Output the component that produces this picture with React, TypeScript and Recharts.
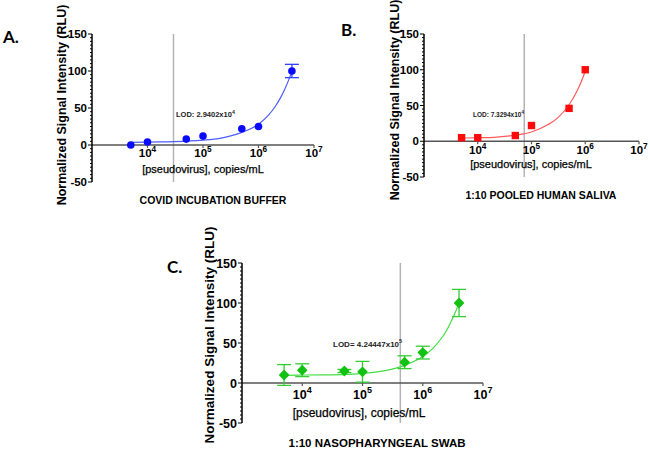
import React from 'react';
import {
  ComposedChart,
  XAxis,
  YAxis,
  Line,
  Scatter,
  ErrorBar,
  ReferenceLine,
  ReferenceDot,
} from 'recharts';

// measured points (copies/mL vs normalized RLU)
const bufferConc = [5000, 10000, 50000, 100000, 500000, 1000000, 4000000];
const bufferSignal = [0, 4, 8, 12, 22, 25, 100];
const bufferError = [0, 0, 0, 0, 0, 0, 9];

const salivaConc = [5000, 10000, 50000, 100000, 500000, 1000000];
const salivaSignal = [5, 5, 8, 22, 46, 100];

const swabConc = [5000, 10000, 50000, 100000, 500000, 1000000, 4000000];
const swabSignal = [10, 16, 15, 14, 26, 38, 100];
const swabError = [13, 8, 2, 13, 8, 8, 17];

// fitted curves
const bufferFitX = [5000, 10000, 30000, 100000, 200000, 500000, 1000000, 1500000, 2000000, 2500000, 3000000, 3500000, 4000000];
const bufferFitY = [3.5, 4, 4.5, 6.5, 9, 17, 28, 40, 52, 64, 76, 88, 99];

const salivaFitX = [5000, 10000, 20000, 50000, 100000, 200000, 300000, 500000, 700000, 850000, 1000000];
const salivaFitY = [4.3, 5, 5.5, 8.5, 13, 23, 32, 51, 70, 84, 98];

const swabFitX = [5000, 10000, 50000, 100000, 300000, 500000, 1000000, 1500000, 2000000, 2500000, 3000000, 3500000, 4000000];
const swabFitY = [9.5, 10, 10.5, 12, 17, 22, 33, 44, 55, 66, 78, 89, 100];

const lodValues = [29402, 73294, 424447];
const lodLabels = ['LOD: 2.9402x10', 'LOD: 7.3294x10', 'LOD= 4.24447x10'];
const lodExps = ['4', '4', '5'];

const xTicks = [10000, 100000, 1000000, 10000000];
const xTickExps = ['4', '5', '6', '7'];
const yMajor = [-50, 0, 50, 100, 150];
const yTicks: number[] = [];
for (let v = -50; v <= 150; v += 5) yTicks.push(v);

const titles = ['COVID INCUBATION BUFFER', '1:10 POOLED HUMAN SALIVA', '1:10 NASOPHARYNGEAL SWAB'];
const letters = ['A.', 'B.', 'C.'];
const xTitle = '[pseudovirus], copies/mL';
const yTitle = 'Normalized Signal Intensity (RLU)';

const zip = (xs: number[], ys: number[], es?: number[]) =>
  xs.map((x, i) => ({ x, y: ys[i], err: es ? es[i] : 0 }));

const tickFont = '"Liberation Sans", Arial, sans-serif';
const textFont = '"Liberation Sans", Arial, sans-serif';

type MarkerKind = 'circle' | 'square' | 'diamond';

const marker = (kind: MarkerKind, color: string) => (p: any) => {
  const { cx, cy } = p;
  if (kind === 'circle') return <circle cx={cx} cy={cy} r={3.8} fill={color} />;
  if (kind === 'square') return <rect x={cx - 3.7} y={cy - 3.7} width={7.4} height={7.4} fill={color} />;
  return (
    <path
      d={`M${cx},${cy - 4.4}L${cx + 4.4},${cy}L${cx},${cy + 4.4}L${cx - 4.4},${cy}Z`}
      fill={color}
      stroke={color}
      strokeWidth={1.4}
      strokeLinejoin="round"
    />
  );
};

interface PanelProps {
  left: number;
  top: number;
  width: number;
  height: number;
  margin: { top: number; right: number; bottom: number; left: number };
  yAxisWidth: number;
  points: { x: number; y: number; err: number }[];
  fit: { x: number; y: number; err: number }[];
  lod: number;
  kind: MarkerKind;
  pointColor: string;
  curveColor: string;
  errColor?: string;
  tickSize: number;
  xLabelOffset: number;
}

const Panel: React.FC<PanelProps> = (p) => {
  const YTick = (t: any) => {
    const v = t.payload.value;
    const major = yMajor.includes(v);
    return (
      <g>
        <line x1={t.x} x2={t.x - (major ? 4 : 2)} y1={t.y} y2={t.y} stroke="#000" strokeWidth={1} />
        {major && (
          <text x={t.x - 5} y={t.y} dy="0.36em" textAnchor="end" fontSize={p.tickSize} fontWeight="bold" fontFamily={tickFont} fill="#000">
            {v}
          </text>
        )}
      </g>
    );
  };

  return (
    <div style={{ position: 'absolute', left: p.left, top: p.top }}>
      <ComposedChart width={p.width} height={p.height} margin={p.margin}>
        <XAxis type="number" dataKey="x" scale="log" domain={[1000, 10000000]} allowDataOverflow hide />
        <YAxis
          type="number"
          dataKey="y"
          domain={[-50, 150]}
          allowDataOverflow
          ticks={yTicks}
          interval={0}
          width={p.yAxisWidth}
          tickSize={0}
          tickMargin={0}
          tickLine={false}
          axisLine={{ stroke: '#000', strokeWidth: 1.5 }}
          tick={YTick}
        />
        <ReferenceLine x={p.lod} stroke="#b4b4b4" strokeWidth={1.5} />
        <ReferenceLine y={0} stroke="#555" strokeWidth={1.5} />
        {xTicks.map((t, i) => (
          <ReferenceDot
            key={t}
            x={t}
            y={0}
            r={0}
            ifOverflow="visible"
            shape={(d: any) => (
              <g>
                <line x1={d.cx} x2={d.cx} y1={d.cy} y2={d.cy + 3} stroke="#555" strokeWidth={1.2} />
                <text x={d.cx} y={d.cy + p.xLabelOffset} textAnchor="middle" fontSize={p.tickSize} fontWeight="bold" fontFamily={tickFont} fill="#000">
                  10
                  <tspan dy={-p.tickSize * 0.45} fontSize={p.tickSize * 0.72}>
                    {xTickExps[i]}
                  </tspan>
                </text>
              </g>
            )}
          />
        ))}
        <Line
          data={p.fit}
          dataKey="y"
          type="monotone"
          dot={false}
          stroke={p.curveColor}
          strokeWidth={1.2}
          isAnimationActive={false}
        />
        <Scatter data={p.points} dataKey="y" fill={p.pointColor} shape={marker(p.kind, p.pointColor)} isAnimationActive={false}>
          {p.errColor && (
            <ErrorBar dataKey="err" direction="y" width={7} stroke={p.errColor} strokeWidth={1.3} isAnimationActive={false} />
          )}
        </Scatter>
      </ComposedChart>
    </div>
  );
};

const Lod: React.FC<{ x: number; y: number; fs: number; i: number }> = ({ x, y, fs, i }) => (
  <text x={x} y={y} fontSize={fs} fontWeight="bold" fontFamily={tickFont} fill="#222">
    {lodLabels[i]}
    <tspan dy={-fs * 0.45} fontSize={fs * 0.7}>
      {lodExps[i]}
    </tspan>
  </text>
);

const App: React.FC = () => {
  return (
    <div style={{ position: 'absolute', left: 0, top: 0, width: 650, height: 452, background: '#fff' }}>
      <Panel
        left={0}
        top={0}
        width={330}
        height={200}
        margin={{ top: 34, right: 16, bottom: 18, left: 0 }}
        yAxisWidth={92}
        points={zip(bufferConc, bufferSignal, bufferError)}
        fit={zip(bufferFitX, bufferFitY)}
        lod={lodValues[0]}
        kind="circle"
        pointColor="#0a0aff"
        curveColor="#4d5dff"
        errColor="#3344ff"
        tickSize={11.5}
        xLabelOffset={12}
      />
      <Panel
        left={330}
        top={0}
        width={320}
        height={200}
        margin={{ top: 34, right: 11, bottom: 23, left: 0 }}
        yAxisWidth={94}
        points={zip(salivaConc, salivaSignal)}
        fit={zip(salivaFitX, salivaFitY)}
        lod={lodValues[1]}
        kind="square"
        pointColor="#ff0a0a"
        curveColor="#ff5a5a"
        tickSize={11.5}
        xLabelOffset={13}
      />
      <Panel
        left={150}
        top={220}
        width={350}
        height={220}
        margin={{ top: 43, right: 17, bottom: 17, left: 0 }}
        yAxisWidth={92}
        points={zip(swabConc, swabSignal, swabError)}
        fit={zip(swabFitX, swabFitY)}
        lod={lodValues[2]}
        kind="diamond"
        pointColor="#12c212"
        curveColor="#44dd44"
        errColor="#33cc33"
        tickSize={12.5}
        xLabelOffset={16}
      />
      <svg width={650} height={452} style={{ position: 'absolute', left: 0, top: 0, pointerEvents: 'none' }}>
        <g fontFamily='Lato, "Open Sans", sans-serif' fontWeight="bold" fontSize={17} fill="#000">
          <text x={3} y={43}>{letters[0]}</text>
          <text x={341} y={36}>{letters[1]}</text>
          <text x={167} y={273}>{letters[2]}</text>
        </g>
        <g fontFamily={textFont} fontWeight="bold" fill="#000" textAnchor="middle">
          <text transform="translate(62,105) rotate(-90)" dy="0.35em" fontSize={12.5}>{yTitle}</text>
          <text transform="translate(395,100) rotate(-90)" dy="0.35em" fontSize={12.5}>{yTitle}</text>
          <text transform="translate(209,335) rotate(-90)" dy="0.35em" fontSize={13.5}>{yTitle}</text>
        </g>
        <g fontFamily={textFont} fill="#000" textAnchor="middle" stroke="#000" strokeWidth={0.25}>
          <text x={203} y={173} fontSize={11}>{xTitle}</text>
          <text x={531} y={168} fontSize={11}>{xTitle}</text>
          <text x={359} y={417} fontSize={12}>{xTitle}</text>
        </g>
        <g fontFamily={textFont} fontWeight="bold" fill="#000" textAnchor="middle">
          <text x={213} y={204} fontSize={10.5}>{titles[0]}</text>
          <text x={541} y={199} fontSize={10.5}>{titles[1]}</text>
          <text x={377} y={447} fontSize={11.5}>{titles[2]}</text>
        </g>
        <Lod x={176} y={117} fs={7.5} i={0} />
        <Lod x={473} y={117} fs={6.5} i={1} />
        <Lod x={333} y={347} fs={8} i={2} />
      </svg>
    </div>
  );
};

export default App;
